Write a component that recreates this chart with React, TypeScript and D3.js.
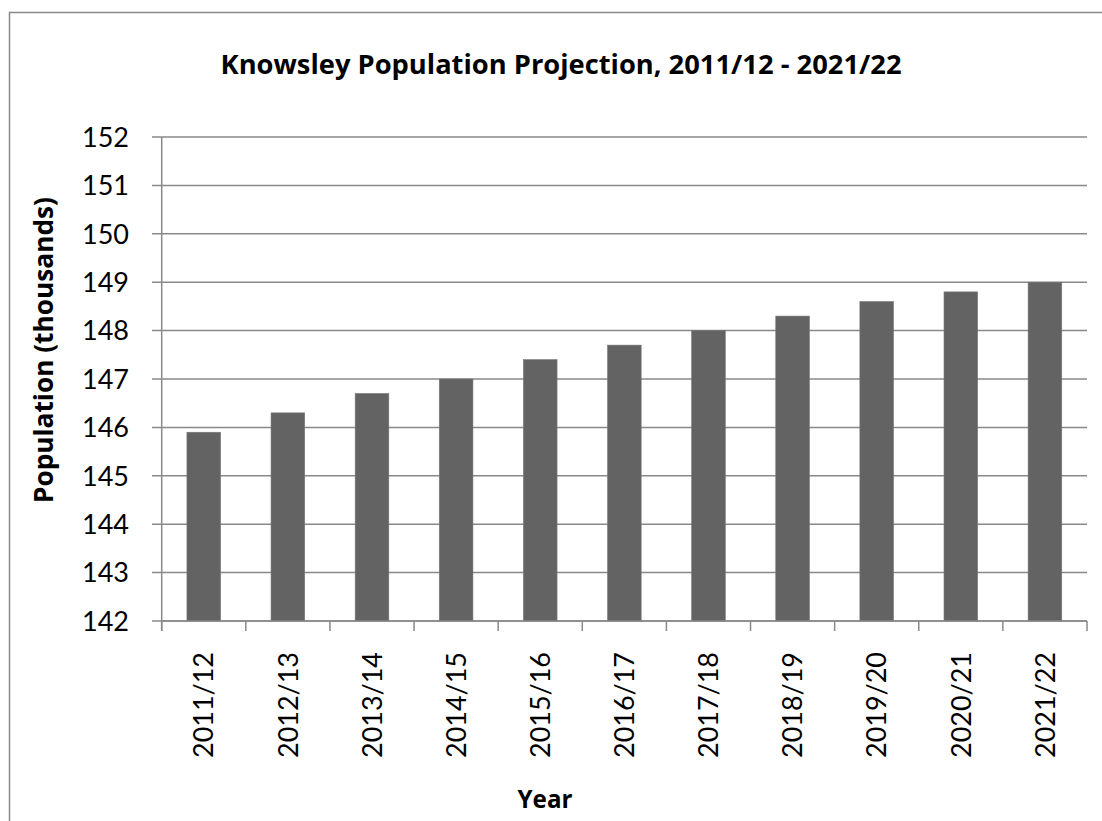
import React from "react";
import * as d3 from "d3";

// Knowsley population projection (thousands), financial years
const years = [
  "2011/12", "2012/13", "2013/14", "2014/15", "2015/16", "2016/17",
  "2017/18", "2018/19", "2019/20", "2020/21", "2021/22",
];
const population = [145.9, 146.3, 146.7, 147.0, 147.4, 147.7, 148.0, 148.3, 148.6, 148.8, 149.0];
const yTicks = [142, 143, 144, 145, 146, 147, 148, 149, 150, 151, 152];

const titleText = "Knowsley Population Projection, 2011/12 - 2021/22";
const yTitle = "Population (thousands)";
const xTitle = "Year";

const W = 1102;
const H = 821;
const left = 161.7;
const right = 1087;
const top = 137;
const bottom = 621;

const FONT = "Lato, 'Open Sans', sans-serif";
const BOLD_FONT = "'Open Sans', Lato, sans-serif";
const GRID = "#898989";
const BAR = "#636363";

export default function App() {
  const x = d3
    .scaleBand<string>()
    .domain(years)
    .range([left, right])
    .paddingInner(0.6)
    .paddingOuter(0.3);
  const y = d3.scaleLinear().domain([142, 152]).range([bottom, top]);
  const step = x.step();
  const tickXs = d3.range(years.length + 1).map((i) => left + i * step);

  return (
    <svg
      width={W}
      height={H}
      style={{ position: "absolute", left: 0, top: 0, background: "#fff" }}
      fontFamily={FONT}
    >
      {/* chart frame */}
      <rect x={9.5} y={12.5} width={W + 20} height={H + 20} fill="#fff" stroke={GRID} strokeWidth={1.5} />

      <text
        x={561}
        y={74}
        textAnchor="middle"
        fontFamily={BOLD_FONT}
        fontWeight="bold"
        fontSize={26}
        textLength={681}
        lengthAdjust="spacingAndGlyphs"
        fill="#000"
      >
        {titleText}
      </text>

      {/* horizontal gridlines with left tick marks */}
      {yTicks.map((t) => (
        <line key={t} x1={152} x2={right} y1={y(t)} y2={y(t)} stroke={GRID} strokeWidth={1.5} />
      ))}

      {/* y tick labels */}
      {yTicks.map((t) => (
        <text key={"l" + t} x={129} y={y(t)} dy="0.36em" textAnchor="end" fontSize={27} fill="#000">
          {t}
        </text>
      ))}

      {/* bars */}
      {years.map((yr, i) => (
        <rect
          key={yr}
          x={x(yr)}
          y={y(population[i])}
          width={x.bandwidth()}
          height={bottom - y(population[i])}
          fill={BAR}
          stroke="#767676"
          strokeWidth={0.6}
        />
      ))}

      {/* axes */}
      <line x1={left} x2={left} y1={top} y2={bottom + 10} stroke={GRID} strokeWidth={1.5} />
      <line x1={left} x2={right} y1={bottom} y2={bottom} stroke={GRID} strokeWidth={1.5} />
      {tickXs.map((tx, i) => (
        <line key={"t" + i} x1={tx} x2={tx} y1={bottom} y2={bottom + 10} stroke={GRID} strokeWidth={1.5} />
      ))}

      {/* x tick labels, rotated */}
      {years.map((yr) => {
        const cx = (x(yr) as number) + x.bandwidth() / 2;
        return (
          <text
            key={"x" + yr}
            transform={`translate(${cx},652) rotate(-90)`}
            dy="0.36em"
            textAnchor="end"
            fontSize={27}
            textLength={106}
            lengthAdjust="spacingAndGlyphs"
            fill="#000"
          >
            {yr}
          </text>
        );
      })}

      {/* axis titles */}
      <text
        transform="translate(53,350) rotate(-90)"
        textAnchor="middle"
        fontFamily={BOLD_FONT}
        fontWeight="bold"
        fontSize={27}
        textLength={306}
        lengthAdjust="spacingAndGlyphs"
        fill="#000"
      >
        {yTitle}
      </text>
      <text
        x={545}
        y={808}
        textAnchor="middle"
        fontFamily={BOLD_FONT}
        fontWeight="bold"
        fontSize={25}
        textLength={55}
        lengthAdjust="spacingAndGlyphs"
        fill="#000"
      >
        {xTitle}
      </text>
    </svg>
  );
}
